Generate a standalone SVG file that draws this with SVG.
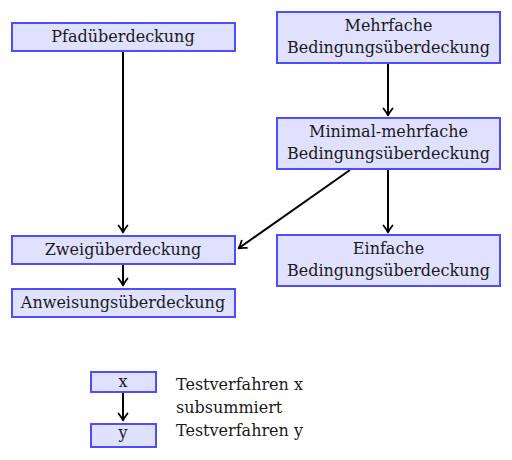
<svg xmlns="http://www.w3.org/2000/svg" width="512" height="460" viewBox="0 0 512 460">
<style>
.box{fill:#e0e0ff;stroke:#4d4dff;stroke-width:2}
text{font-family:"DejaVu Serif",serif;font-size:16px;fill:#1a1a1a}
.c{text-anchor:middle}
.edge{stroke:#000;stroke-width:2;fill:none;marker-end:url(#arr)}
</style>
<defs>
<marker id="arr" markerUnits="userSpaceOnUse" markerWidth="14" markerHeight="14" viewBox="-10 -7 12 14" refX="0" refY="0" orient="auto">
<path d="M-6.5,-4.5 Q-2,-1 0.5,0 Q-2,1 -6.5,4.5" fill="none" stroke="#000" stroke-width="1.8" stroke-linecap="round" stroke-linejoin="round"/>
</marker>
</defs>
<rect width="512" height="460" fill="#fff"/>
<g id="connectors">
<line class="edge" x1="123" y1="52" x2="123" y2="232"/>
<line class="edge" x1="388" y1="63" x2="388" y2="115"/>
<line class="edge" x1="388" y1="170" x2="388" y2="232"/>
<line class="edge" x1="350" y1="170" x2="239" y2="248"/>
<line class="edge" x1="123" y1="264" x2="123" y2="285"/>
<line class="edge" x1="123" y1="393" x2="123" y2="420"/>
</g>
<g id="pfad">
<rect class="box" x="12" y="23" width="223" height="28"/>
<text class="c" x="123" y="42">Pfadüberdeckung</text>
</g>
<g id="mehrfache">
<rect class="box" x="277" y="12" width="223" height="51"/>
<text class="c" x="388.5" y="31">Mehrfache</text>
<text class="c" x="388.5" y="53">Bedingungsüberdeckung</text>
</g>
<g id="minimal">
<rect class="box" x="277" y="118" width="223" height="51"/>
<text class="c" x="388.5" y="137">Minimal-mehrfache</text>
<text class="c" x="388.5" y="159">Bedingungsüberdeckung</text>
</g>
<g id="zweig">
<rect class="box" x="12" y="236" width="223" height="28"/>
<text class="c" x="123" y="255">Zweigüberdeckung</text>
</g>
<g id="einfache">
<rect class="box" x="277" y="235" width="223" height="51"/>
<text class="c" x="388.5" y="254">Einfache</text>
<text class="c" x="388.5" y="276">Bedingungsüberdeckung</text>
</g>
<g id="anweisung">
<rect class="box" x="12" y="289" width="223" height="28"/>
<text class="c" x="123" y="308">Anweisungsüberdeckung</text>
</g>
<g id="x">
<rect class="box" x="91" y="372" width="65" height="20"/>
<text class="c" x="123" y="387">x</text>
</g>
<g id="y">
<rect class="box" x="91" y="424" width="65" height="23"/>
<text class="c" x="123" y="438">y</text>
</g>
<g id="legend">
<text x="176" y="390">Testverfahren x</text>
<text x="176" y="413">subsummiert</text>
<text x="176" y="436">Testverfahren y</text>
</g>
</svg>
